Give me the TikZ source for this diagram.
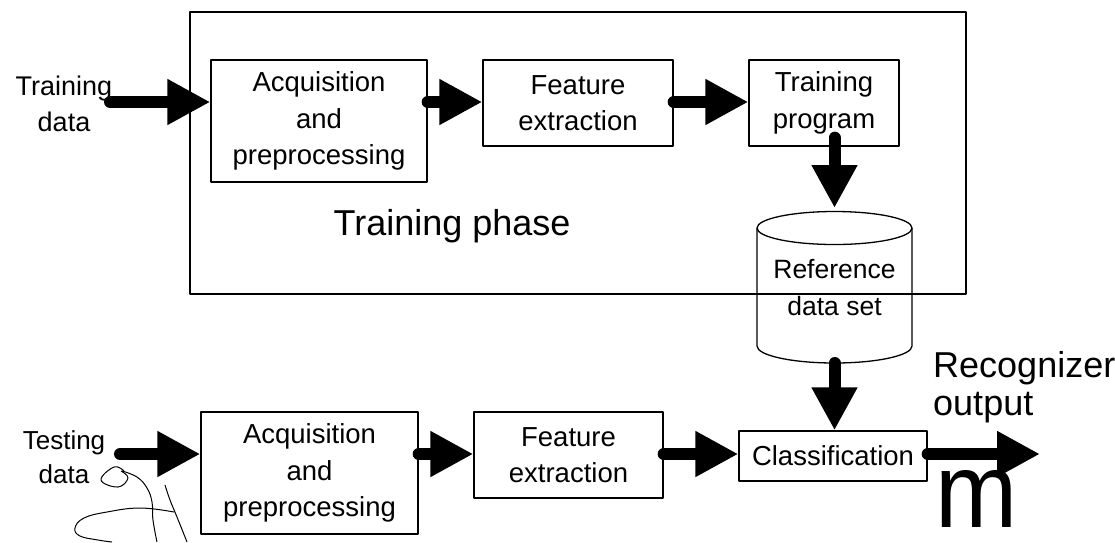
\documentclass[tikz,border=0pt]{standalone}
\usepackage{fontspec}
\setmainfont{Liberation Sans}
\usetikzlibrary{arrows.meta}

\tikzset{
  stagebox/.style={draw, line width=1.3pt, align=center, inner sep=0pt,
    font=\fontsize{27.5}{36.5}\selectfont},
  sidelabel/.style={align=center, inner sep=0pt, font=\fontsize{27}{36}\selectfont},
  fatarrow/.style={line width=12pt, line cap=round, -{Triangle[length=43pt,width=43pt]}},
}

\begin{document}
\begin{tikzpicture}[x=1pt, y=-1pt, line join=round]
  \useasboundingbox (0,0) rectangle (1115,542);
  \draw[line width=1.3pt] (190,12) rectangle (966,294);

  \node[stagebox, minimum width=216pt, minimum height=122pt] (acqA) at (319,121) {Acquisition\\and\\preprocessing};
  \node[stagebox, minimum width=190pt, minimum height=86pt] (featA) at (578,103) {Feature\\extraction};
  \node[stagebox, minimum width=150pt, minimum height=86pt] (tprog) at (824,103) {Training\\program};
  \node[font=\fontsize{36}{40}\selectfont, inner sep=0pt, anchor=base] (tphase) at (452,235) {Training phase};

  \node[sidelabel] (tdata) at (64,104) {Training\\data};
  \coordinate (tdin) at (110,102);
  \draw[fatarrow] (tdin) -- (acqA.west |- tdin);
  \draw[fatarrow] (acqA.east |- tdin) -- (featA.west |- tdin);
  \draw[fatarrow] (featA.east |- tdin) -- (tprog.west |- tdin);

  \node[sidelabel, font=\fontsize{26.5}{37}\selectfont] (refset) at (834.5,288) {Reference\\data set};
  \coordinate (reftop) at (834.5,208);
  \coordinate (refbot) at (834.5,363);
  \draw[line width=1.3pt] (834.5,228) ellipse (77.5 and 16.5);
  \draw[line width=1.3pt] (757,228) -- (757,346) arc (180:0:77.5 and 17) -- (912,228);
  \draw[fatarrow] ([yshift=9pt]tprog.south -| reftop) -- (reftop);

  \node[stagebox, minimum width=217pt, minimum height=122pt] (acqB) at (309.5,473) {Acquisition\\and\\preprocessing};
  \node[stagebox, minimum width=189pt, minimum height=86pt] (featB) at (568.5,455) {Feature\\extraction};
  \node[stagebox, minimum width=188pt, minimum height=50pt] (classif) at (833,456) {Classification};
  \draw[fatarrow] (refbot) -- (refbot |- classif.north);

  \node[sidelabel, font=\fontsize{26}{34}\selectfont] (tsdata) at (64,457) {Testing\\data};
  \coordinate (tsin) at (120,454);
  \draw[fatarrow] (tsin) -- (acqB.west |- tsin);
  \draw[fatarrow] (acqB.east |- tsin) -- (featB.west |- tsin);
  \draw[fatarrow] (featB.east |- tsin) -- (classif.west |- tsin);

  \coordinate (recout) at (1040,454);
  \draw[fatarrow] (classif.east |- recout) -- (recout);
  \node[align=left, inner sep=0pt, anchor=north west, font=\fontsize{36}{38}\selectfont] (reclabel) at (933,351) {Recognizer\\output};
  \node[inner sep=0pt, font=\fontsize{106}{106}\selectfont] (glyph) at (977,499) {\scalebox{0.93}[1]{m}};

  \draw[line width=1pt] plot[smooth, tension=0.7] coordinates {(124,471) (114,467) (101,480) (118,487) (128,478) (121,471)};
  \draw[line width=1pt] plot[smooth, tension=0.7] coordinates {(122,471) (137,477) (147,488) (152,502) (153,520) (157,542)};
  \draw[line width=1pt] plot[smooth, tension=0.7] coordinates {(165,485) (170,500) (177,517) (187,542)};
  \draw[line width=1pt] plot[smooth, tension=0.7] coordinates {(174,512) (140,508) (107,512) (84,518) (75,528) (80,536) (98,540) (112,542)};
\end{tikzpicture}
\end{document}
